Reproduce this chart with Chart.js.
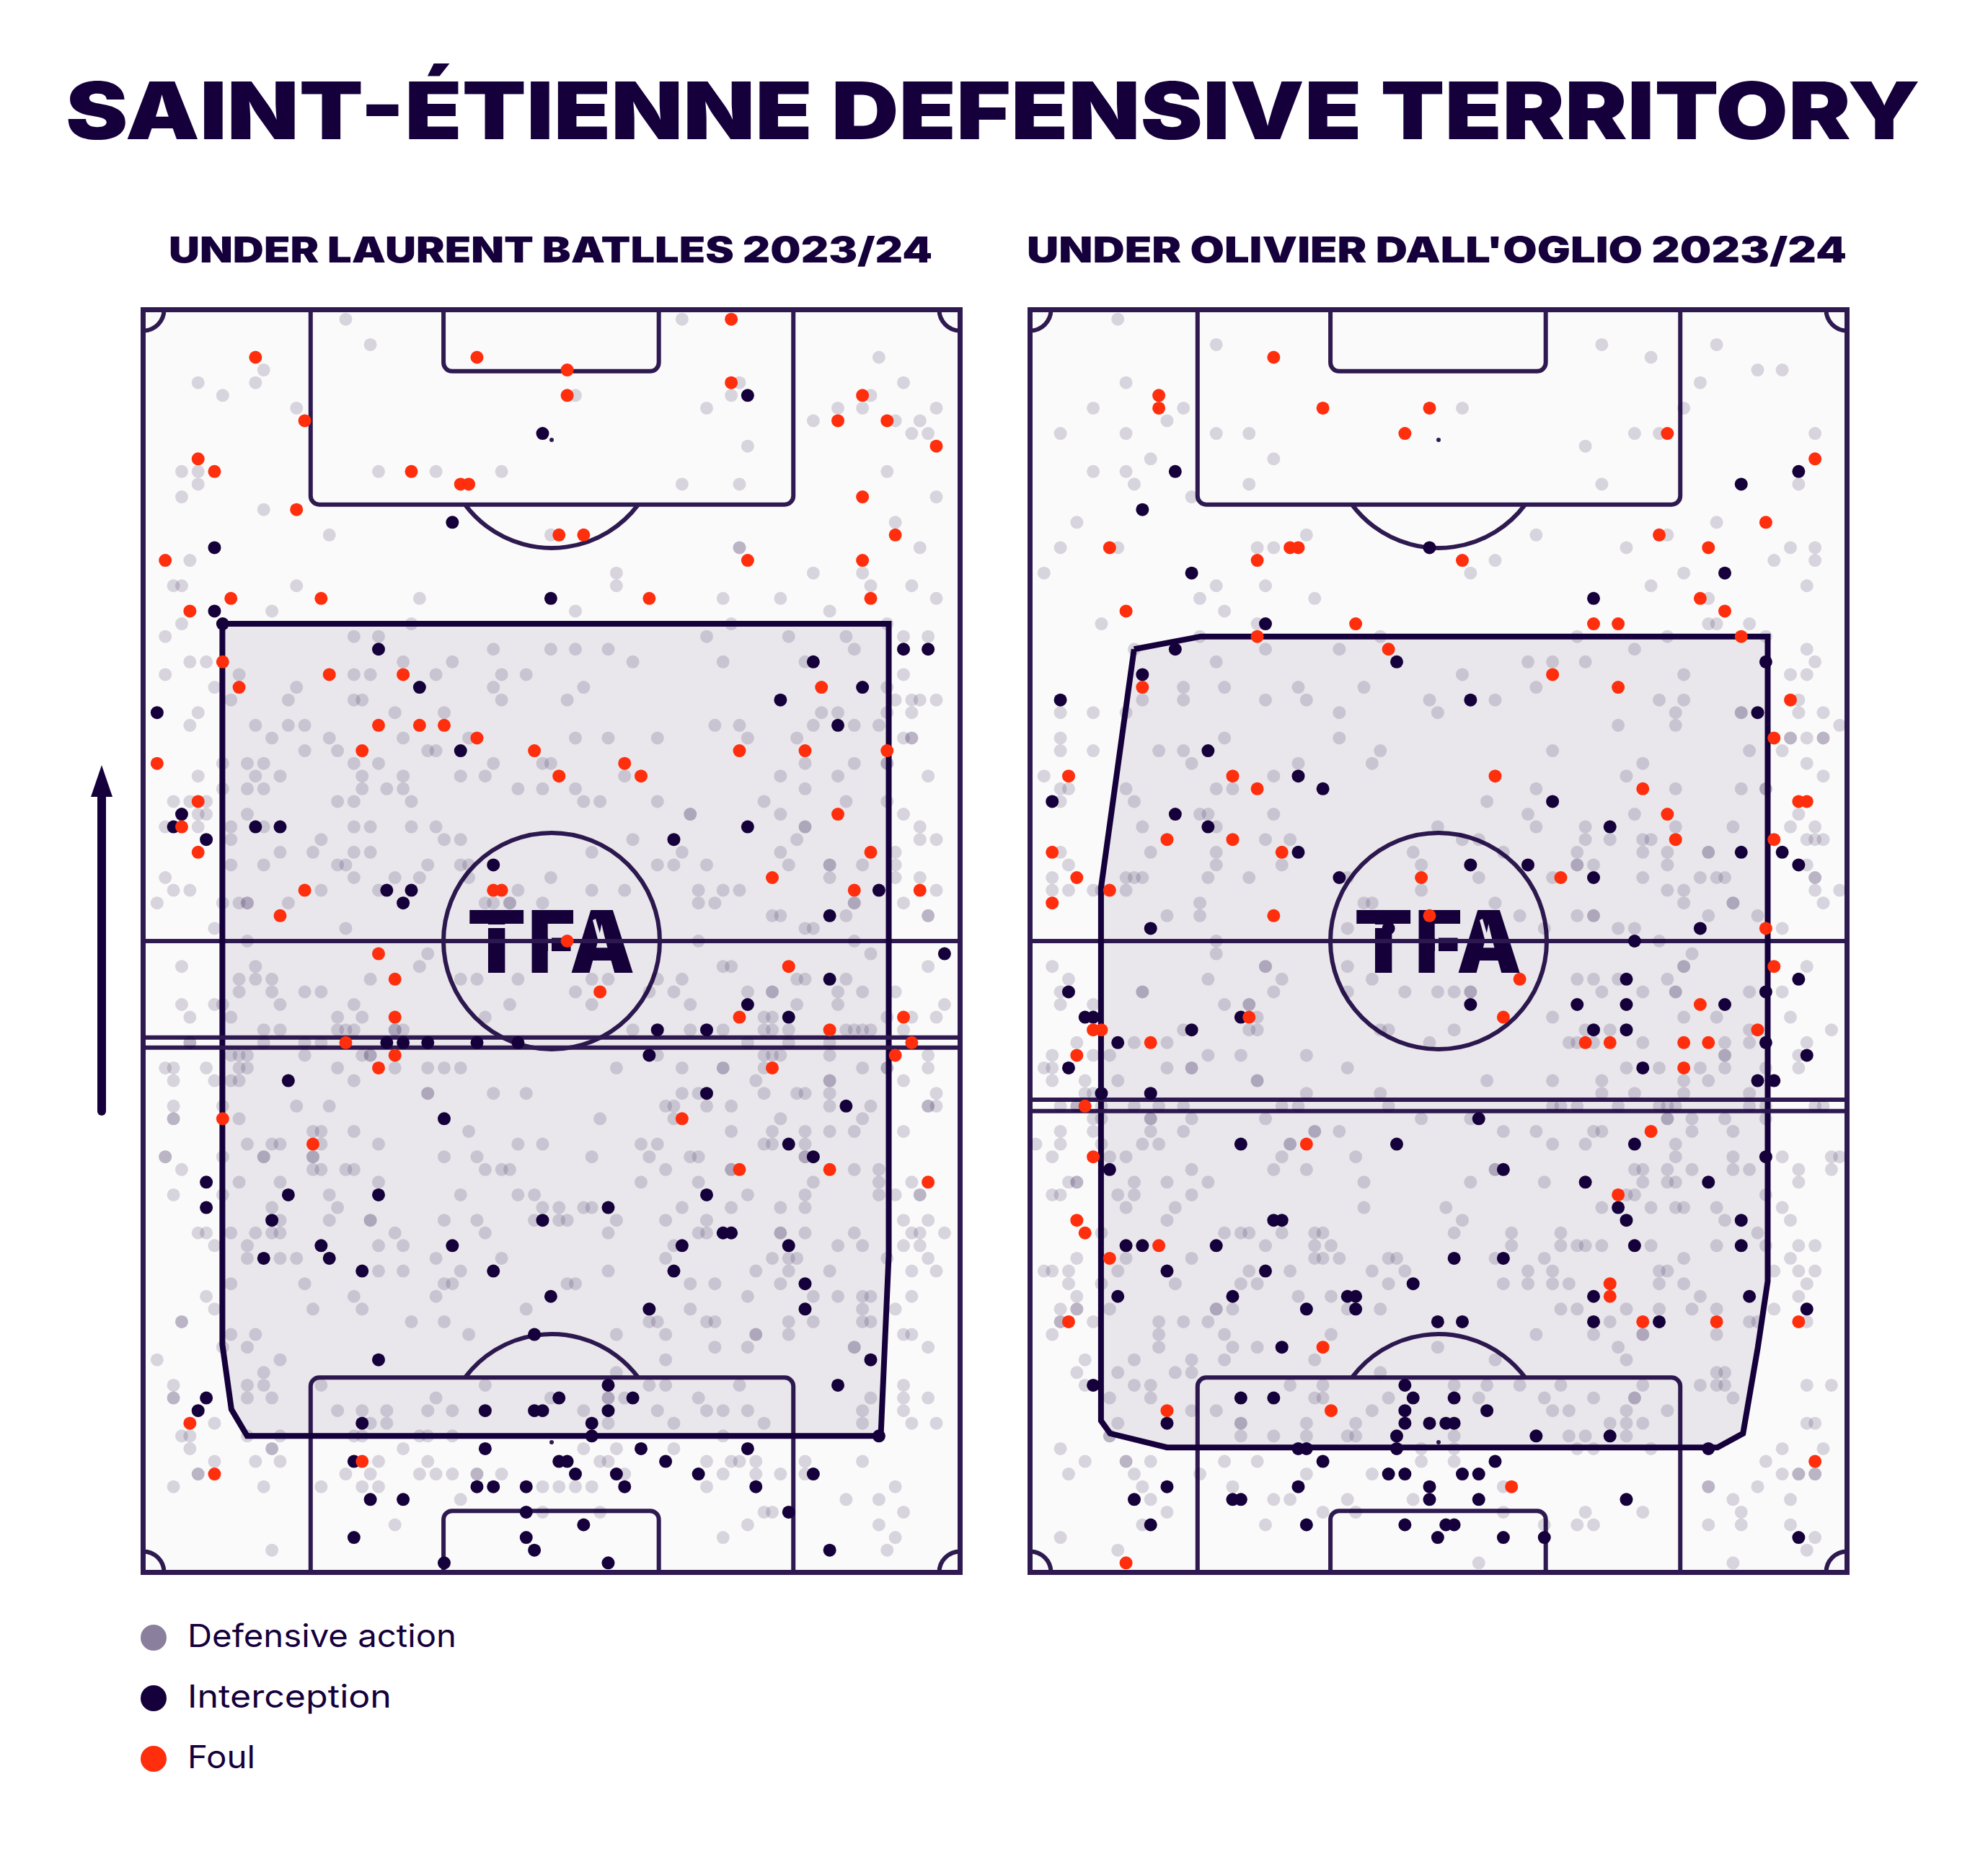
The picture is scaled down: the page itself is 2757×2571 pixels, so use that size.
<!DOCTYPE html>
<html>
<head>
<meta charset="utf-8">
<title>Saint-Étienne defensive territory</title>
<script src="https://cdn.jsdelivr.net/npm/chart.js@4"></script>
<style>
html,body{margin:0;padding:0;background:#fff}
body{position:relative;width:2757px;height:2571px;overflow:hidden;color:#15003b;font-family:Inter,"Liberation Sans",sans-serif}
canvas{position:absolute}
.fit{position:absolute;white-space:nowrap;transform-origin:0 0;line-height:1}
#title{font-weight:900;font-size:110px}
.sub{font-weight:900;font-size:49px}
.lab{font-weight:400;font-size:44px}
.dot{position:absolute;left:195px;width:36px;height:36px;border-radius:50%}
</style>
</head>
<body>
<div class="fit" id="title" data-w="2572" style="left:91px;top:98px">SAINT-ÉTIENNE DEFENSIVE TERRITORY</div>
<div class="fit sub" data-w="1059" style="left:234px;top:322px">UNDER LAURENT BATLLES 2023/24</div>
<div class="fit sub" data-w="1137" style="left:1424px;top:322px">UNDER OLIVIER DALL'OGLIO 2023/24</div>
<svg style="position:absolute;left:120px;top:1050px" width="42" height="510">
<path d="M21 50 L21 491" stroke="#15003b" stroke-width="12" stroke-linecap="round"/>
<path d="M21 11 L36 55 L6 55 Z" fill="#15003b"/>
</svg>
<canvas id="left" style="left:188px;top:419px" width="1154" height="1772"></canvas>
<canvas id="right" style="left:1418px;top:419px" width="1154" height="1772"></canvas>
<div class="dot" style="top:2253px;background:rgba(21,0,59,.5)"></div>
<div class="dot" style="top:2337px;background:#15003b"></div>
<div class="dot" style="top:2421px;background:#ff2e0d"></div>
<div class="fit lab" data-w="373" style="left:260px;top:2246px">Defensive action</div>
<div class="fit lab" data-w="283" style="left:260px;top:2330px">Interception</div>
<div class="fit lab" data-w="94" style="left:260px;top:2414px">Foul</div>
<script>
// each row: y first, then the x of every defensive action on that row
var batllesActions = [
[99,25,66],[97,28],[96,90],[95,15],[94,7,14,73,93],[93,10,53,72,89],[92,19,69,85,88,97],[91,82,92,95],[90,94,96],[89,74],
[87,5,7,29,36,44,91],[86,7,66,73],[85,5,97],[84,15],[83,92],[82,23,50],[81,73,73,95],[80,6],[79,58,82,88],[78,4,5,19,58,89,94],
[77,34,71,78,97],[76,16,53,84],[75,5,33,72,91],[74,3,26,29,69,79,86,93,96],[73,43,50,53,57,87],[72,6,8,32,38,60,71,81],
[71,3,12,26,28,36,44,47,93],[70,9,19,43,54,91],[69,11,18,26,27,44,52,92,94,95,97],[68,7,31,37,83,85,91,94],
[67,6,14,18,20,70,73,82,87,90],[66,16,23,32,40,53,57,63,74,80,93,94,94],[65,20,24,35,36],[64,10,13,15,26,29,43,49,50,81,87,91,91],
[63,7,14,17,27,32,39,42,59,78,85,96],[62,10,13,15,27,30,32,46,49,53,81],[61,4,6,8,24,26,33,54,56,63,76,86,91],
[60,7,8,13,67,67,78,93],[59,3,7,11,15,26,28,33,36,81,81,95],[58,11,22,37,39,60,80,95,97],[57,17,21,26,28,55,66,78,92],
[56,11,15,24,25,35,39,40,63,65,69,79,84,84,88,92],[55,3,26,31,34,40,50,84,92,95],[54,4,6,22,29,46,55,59,68,71,73,97],
[53,2,10,12,13,13,18,42,43,45,45,49,68,70,87,87,93],[52,77,78,86,96,96],[51,9,25,81,82],[50,13,68,87],
[49,35,89],[48,5,14,34,71,72,96],[47,12,14,16,28,39,41,46,55,57,63,66,80,81,86],[46,12,16,20,22,53,62,65,74,77,77,85,88,92],
[45,5,9,10,17,26,45,55,67,80,85,98],[44,6,11,24,27,42,76,77,91,94,97],[43,15,17,24,25,26,31,31,32,60,67,71,76,77,79,86,87,88,89,93],
[42,6,6,15,20,22,74,79,84],[41,11,12,13,20,27,28,28,63,76,77,78,84,96],[40,3,4,8,12,13,24,31,35,37,39,58,66,71,71,76,88,91,91,96],
[39,4,9,11,12,26,75,84,84,93],[38,35,35,43,47,66,68,76,80,81,84,97],[37,4,10,19,23,64,65,69,72,84,89,96,96,97],
[36,4,4,12,56,65,78,88],[35,21,22,26,40,72,77,81,84,87,93],[34,13,16,17,22,29,46,49,61,63,76,77,81],
[33,3,3,10,15,15,21,21,37,41,55,62,67,68,81,81],[32,5,21,22,25,26,42,44,45,64,72,72,87,90],[31,12,17,29,61,68,82,90,94],
[30,4,10,23,39,46,48,74,81,90,92,95,95],[29,16,24,49,51,54,55,66,72,78,81],[28,17,23,28,28,37,41,48,51,52,58,64,69,93,96],
[27,7,8,11,14,16,17,31,42,57,68,69,78,78,81,87,94,95,98],[26,9,13,29,32,65,85,88,93,95],[25,13,17,19,36,44,64,77,79,80,91,96],
[24,29,32,39,57,75,79,84,94,97],[23,11,20,37,38,52,53,67,70,78],[22,8,26,36,74,82,85,88,89,94],[21,9,21,27,47,67,88,92],
[20,5,5,33,37,62,63,69,70,79,82,88,89],[19,11,14,40,58,64,75,75,79,93,94],[18,10,13,70,74,87,87,96],[17,2,17,64],[16,15,58],
[15,4,13,15,22,42,62,64,73,93],[14,4,4,13,16,36,50,57,57,59,68,89,93,96],[13,24,27,30,35,38,54,63,69,71,74,88,93],
[12,9,28,30,57,65,76,88,94,97],[11,5,6,13,17,26,27,34,35,38,71],[10,6,16,16,32,54,58,65],[9,9,14,17,29,35,56,57,69,72,73,75,81,88],
[8,7,7,25,28,34,36,38,41,41,44,59,71,75,78,81],[7,4,15,22,27,29,49,51,53,55,69,92],[6,39,86,90],[5,49,56,76,77,93],[4,31,74,90],[3,71,92],[2,16,91]
];
var batllesInterceptions = [
[74,93],[49,90],[38,83],[9,81],[50,77],[9,76],[10,75],[29,73],[93,73],[96,73],[82,72],[34,70],[88,70],[78,69],[2,68],[85,67],[39,65],
[5,60],[4,59],[14,59],[17,59],[74,59],[8,58],[65,58],[43,56],[30,54],[33,54],[90,54],[32,53],[84,52],
[98,49],[84,47],[74,45],[79,44],[63,43],[69,43],[30,42],[32,42],[35,42],[41,42],[46,42],[62,41],[18,39],[69,38],[86,37],[37,36],
[79,34],[82,33],[8,31],[18,30],[29,30],[69,30],[8,29],[57,29],[16,28],[49,28],[71,27],[72,27],[22,26],[38,26],[66,26],[79,26],
[15,25],[23,25],[27,24],[43,24],[65,24],[81,23],[50,22],[62,21],[81,21],[48,19],[29,17],[89,17],[57,15],[85,15],[8,14],[51,14],[60,14],
[7,13],[42,13],[48,13],[49,13],[57,13],[27,12],[55,12],[55,11],[90,11],[42,10],[61,10],[74,10],[26,9],[51,9],[52,9],[64,9],
[53,8],[58,8],[68,8],[82,8],[41,7],[43,7],[47,7],[59,7],[75,7],[28,6],[32,6],[47,5],[79,5],[54,4],[26,3],[47,3],[48,2],[84,2],[37,1],[57,1]
];
var batllesFouls = [
[72,99],[14,96],[41,96],[52,95],[72,94],[52,93],[88,93],[20,91],[85,91],[91,91],[97,89],[7,88],[9,87],[33,87],[39,86],[40,86],[88,85],
[19,84],[51,82],[54,82],[92,82],[3,80],[74,80],[88,80],[11,77],[22,77],[62,77],[89,77],[6,76],[10,72],[23,71],[32,71],[12,70],[83,70],
[29,67],[34,67],[37,67],[41,66],[27,65],[48,65],[73,65],[81,65],[91,65],[2,64],[59,64],[51,63],[61,63],[7,61],[85,60],[5,59],[7,57],[89,57],
[77,55],[20,54],[43,54],[44,54],[87,54],[95,54],[17,52],[52,50],
[29,49],[31,47],[79,48],[56,46],[31,44],[73,44],[93,44],[84,43],[25,42],[94,42],[31,41],[92,41],[29,40],[77,40],[10,36],[66,36],[21,34],
[73,32],[84,32],[96,31],[6,12],[27,9],[9,8]
];
var batllesTerritory = [[9.96,75],[91.2,75],[91.2,25.2],[90.23,11],[12.98,11],[11.06,13.1],[9.96,18.2],[9.96,75]];
var batllesLines = [42.4,41.6];

var dallOglioActions = [
[99,11],[97,23,70,84],[96,76],[95,89,92],[94,12,82],[92,8,19,53,80],[91,17],[90,4,12,23,27,74,77,96],[89,68],[88,15,30],[87,8,12],
[86,13,27,70,94],[85,20],[83,6,84],[82,34,62,78],[81,4,11,28,30,73,93,96],[80,57,91,96],[79,2,54,80],[78,23,29,76,95],[77,21,35,83],[76,24],
[75,9,28,83,84,88],[74,21,43,67,78,90],[73,13,29,38,74,95],[72,23,61,64,68,96],[71,53,80,93,95],[70,19,24,33,41,62],
[69,14,19,29,34,49,57,77,80,94],[68,4,8,12,38,50,79,87,87,94,97],[67,72,79,99],[66,4,24,38,93,93,95,97,97],[65,4,8,16,19,43,64,88,92],
[64,20,33,42,75,95],[63,2,30,73,97],[62,4,5,12,23,25,62,79,87,90,90],[61,4,13,56],[60,21,22,30,61,74,94],[59,14,23,50,62,68,79,86,93,96],
[58,29,32,53,55,68,71,75,76,95,96,97],[57,4,15,23,47,58,67,75,78,83,83],[56,5,23,31,48,67,67,69,78,95],
[55,3,12,13,14,22,27,39,55,64,75,82,84,85,96,96],[54,3,5,8,9,12,48,78,80,96,99],[53,21,41,42,57,80,86,86,97],[52,17,21,60,67,69,69,83,89],
[51,39,63,72,74,92],[50,23,77],
[49,23,81],[48,3,29,29,39,80,80,95],[47,5,22,31,42,67,69,72,78],[46,4,14,14,30,39,46,50,52,54,54,70,75,79,79,88,92],[45,4,8,24,27,27],
[44,28,64,80,84,93],[43,19,27,28,43,44,52,68,71,88,98],[42,6,13,17,49,66,67,69,75,85,88,95],[41,3,8,10,22,26,34,85,85,94],
[40,2,3,17,20,20,39,73,77,82,85,90,94],[39,3,7,11,28,28,56,64,70,80,83],[38,7,8,34,43,70,74,80,88],
[37,4,6,6,9,13,16,19,31,33,44,64,65,67,72,77,78,79,88,90,96,97],[36,8,9,15,15,20,29,48,54,78,78,81,85,90],
[35,4,8,15,19,35,35,38,58,62,69,70,81,86],[34,1,4,9,14,16,32,32,64,68,79],[33,3,10,12,31,40,79,86,92,98,99],
[32,20,30,34,57,57,74,75,78,81,86,88,94,98],[31,5,6,6,13,17,22,41,54,63,75,78,79,94],[30,3,4,11,13,20,73,74,90],
[29,12,18,41,51,70,76,79,80,84,92],[28,17,53,85,93],[27,9,24,26,27,31,35,36,52,59,65,89],[26,29,35,37,59,65,67,68,70,76,84,90,94,96],
[25,6,12,20,35,36,38,44,45,57,63,80,93],[24,2,3,5,11,27,32,42,46,61,64,77,78,91,94,96],[23,5,9,18,26,28,44,58,61,64,66,77,80,95],
[22,6,33,37,82,94],[21,4,6,6,10,23,23,25,39,43,65,67,73,77,81,84,91],[20,4,4,8,16,19,22,71,88,89,95],[19,3,16,24,37,62,69,75,75,84],
[18,16,25,28,50,72],[17,7,13,20,24,35,57,73],[16,6,11,18,20,43,84,85],[15,7,13,15,32,36,52,56,60,65,75,82,84,85,95,98],
[14,10,15,35,36,44,55,63,69,74,74,86],[13,20,23,42,64,66,73,78],[12,11,26,26,34,40,71,73,75,95,96],[11,10,10,26,30,34,39,40,52,66,68,73],
[10,4,48,52,67,69,76,92,97],[9,7,12,12,15,24,28,48,52,90],[8,5,13,21,34,42,92,94,94,96,96],[7,14,25,58,83,83,89],[6,15,30,32,39,47,86,93],
[5,17,36,40,58,68,75,87],[4,14,29,63,67,69,83,87,93],[3,4,96],[2,11,95],[1,55,86]
];
var dallOglioInterceptions = [
[18,87],[94,87],[87,86],[14,84],[49,81],[20,79],[85,79],[69,77],[29,75],[18,73],[45,72],[90,72],[14,71],[4,69],[54,69],[89,68],[22,65],
[33,63],[36,62],[3,61],[64,61],[18,60],[22,59],[71,59],[33,57],[87,57],[92,57],[54,56],[61,56],[94,56],[38,55],[69,55],[15,51],[82,51],[74,50],[44,51],
[73,47],[94,47],[5,46],[90,46],[54,45],[67,45],[73,45],[85,45],[7,44],[8,44],[26,44],[20,43],[69,43],[73,43],[11,42],[90,42],[95,41],[5,40],[75,40],
[89,39],[91,39],[9,38],[15,38],[55,36],[26,34],[45,34],[74,34],[90,33],[10,32],[58,32],[68,31],[83,31],[72,29],[30,28],[31,28],[73,28],[87,28],
[12,26],[14,26],[23,26],[74,26],[87,26],[52,25],[58,25],[17,24],[29,24],[47,23],[11,22],[25,22],[39,22],[40,22],[69,22],[88,22],[34,21],[40,21],[95,21],
[50,20],[53,20],[69,20],[77,20],[31,18],[8,15],[46,15],[26,14],[30,14],[47,14],[52,14],[46,13],[56,13],[17,12],[46,12],[49,12],[51,12],[52,12],
[45,11],[62,11],[71,11],[33,10],[34,10],[45,10],[83,10],[36,9],[57,9],[44,8],[46,8],[53,8],[55,8],[17,7],[33,7],[49,7],[13,6],[25,6],[26,6],[49,6],[55,6],[73,6],
[15,4],[34,4],[46,4],[51,4],[52,4],[50,3],[58,3],[63,3],[94,3]
];
var dallOglioFouls = [
[30,96],[16,93],[16,92],[36,92],[49,92],[46,90],[78,90],[96,88],[90,83],[77,82],[10,81],[32,81],[33,81],[83,81],[28,80],[53,80],[82,77],[12,76],[85,76],
[40,75],[69,75],[72,75],[28,74],[87,74],[44,73],[64,71],[14,70],[72,70],[93,69],[91,66],[5,63],[25,63],[57,63],[28,62],[75,62],[94,61],[95,61],[78,60],
[17,58],[25,58],[79,58],[91,58],[3,57],[31,57],[6,55],[48,55],[65,55],[10,54],[3,53],[30,52],[49,52],[90,51],
[91,48],[60,47],[82,45],[27,44],[58,44],[8,43],[9,43],[89,43],[15,42],[68,42],[71,42],[80,42],[83,42],[6,41],[80,40],[7,37],[76,35],[34,34],[8,33],[72,30],
[6,28],[7,27],[16,26],[10,25],[71,23],[71,22],[5,20],[75,20],[84,20],[94,20],[36,18],[17,13],[37,13],[96,9],[59,7],[12,1]
];
var dallOglioTerritory = [[12.98,73],[21.12,74],[90.23,74],[90.23,23.2],[89.03,18],[87.22,11.2],[84.1,10.1],[17,10.1],[10.06,11.2],[8.95,12.2],[8.95,54.2],[12.98,73]];
var dallOglioLines = [37.5,36.6];

var NAVY = '#15003b', LINE = '#2e1a50', FOUL = '#ff2e0d';
var XMIN = 0.3, XMAX = 99.9, MID = 50.1;

function expandRows(rows) {
  var out = [];
  rows.forEach(function (row) {
    row.slice(1).forEach(function (x) { out.push({x: x, y: row[0]}); });
  });
  return out;
}
function toPoints(pairs) {
  return pairs.map(function (p) { return {x: p[0], y: p[1]}; });
}

// stencil style logo, one stretched letter at a time, with the cuts of the original
function drawLogo(ctx, cx, cy) {
  ctx.save();
  ctx.fillStyle = NAVY;
  ctx.font = '900 120px Inter, "Liberation Sans", sans-serif';
  ctx.textBaseline = 'alphabetic';
  ctx.textAlign = 'left';
  [['T', -114, -38], ['F', -28, 31], ['A', 27, 113]].forEach(function (l) {
    var m = ctx.measureText(l[0]);
    var s = (l[2] - l[1]) / (m.actualBoundingBoxLeft + m.actualBoundingBoxRight);
    ctx.save();
    ctx.translate(cx + l[1] + m.actualBoundingBoxLeft * s, cy + 44);
    ctx.scale(s, 1);
    ctx.fillText(l[0], 0, 0);
    ctx.restore();
  });
  ctx.fillStyle = '#fafafa';
  ctx.fillRect(cx - 114, cy - 23, 76, 5);
  ctx.fillRect(cx - 5, cy - 12, 5, 28);
  ctx.beginPath();
  ctx.moveTo(cx + 57, cy - 29);
  ctx.lineTo(cx + 61, cy - 31);
  ctx.lineTo(cx + 71, cy + 3);
  ctx.lineTo(cx + 66, cy + 5);
  ctx.closePath();
  ctx.fill();
  ctx.restore();
}

// pitch markings go under the datasets, placed with the chart's scales
var pitchPlugin = {
  id: 'pitch',
  beforeDatasetsDraw: function (chart) {
    var ctx = chart.ctx, a = chart.chartArea;
    var sx = chart.scales.x, sy = chart.scales.y;
    var X = function (v) { return sx.getPixelForValue(v); };
    var Y = function (v) { return sy.getPixelForValue(v); };
    var R = 150, rad = 12;
    ctx.save();
    ctx.fillStyle = '#fafafa';
    ctx.fillRect(a.left, a.top, a.width, a.height);

    drawLogo(ctx, X(MID), Y(50));

    ctx.strokeStyle = LINE;
    ctx.lineWidth = 6;

    function box(l, r, yEdge, yFront) {
      ctx.beginPath();
      ctx.moveTo(X(l), Y(yEdge));
      ctx.arcTo(X(l), Y(yFront), X(r), Y(yFront), rad);
      ctx.arcTo(X(r), Y(yFront), X(r), Y(yEdge), rad);
      ctx.lineTo(X(r), Y(yEdge));
      ctx.stroke();
    }
    box(20.72, 79.57, 99.75, 84.4);
    box(20.72, 79.57, 0.25, 15.6);
    box(36.92, 63.17, 99.75, 94.9);
    box(36.92, 63.17, 0.25, 5.1);

    // halfway line and circles
    ctx.beginPath();
    ctx.moveTo(a.left, Y(50));
    ctx.lineTo(a.right, Y(50));
    ctx.stroke();
    ctx.beginPath();
    ctx.arc(X(MID), Y(50), R, 0, Math.PI * 2);
    ctx.stroke();
    ctx.beginPath();
    ctx.arc(X(MID), Y(89.5), R, 0.6435, Math.PI - 0.6435);
    ctx.stroke();
    ctx.beginPath();
    ctx.arc(X(MID), Y(10.5), R, Math.PI + 0.6435, -0.6435);
    ctx.stroke();

    // spots
    ctx.fillStyle = LINE;
    [89.5, 10.5].forEach(function (v) {
      ctx.beginPath();
      ctx.arc(X(MID), Y(v), 3, 0, Math.PI * 2);
      ctx.fill();
    });

    // corner arcs
    [[a.left, a.top, 0, Math.PI / 2], [a.right, a.top, Math.PI / 2, Math.PI],
     [a.left, a.bottom, -Math.PI / 2, 0], [a.right, a.bottom, Math.PI, Math.PI * 1.5]].forEach(function (c) {
      ctx.beginPath();
      ctx.arc(c[0], c[1], 29, c[2], c[3]);
      ctx.stroke();
    });

    // frame
    ctx.lineWidth = 7;
    ctx.strokeRect(a.left, a.top, a.width, a.height);
    ctx.restore();
  }
};

function makePanel(id, actions, interceptions, fouls, territory, lines) {
  var lineSets = lines.map(function (v) {
    return {
      type: 'scatter', data: [{x: XMIN, y: v}, {x: XMAX, y: v}], showLine: true,
      borderColor: LINE, borderWidth: 6, pointRadius: 0, order: 4
    };
  });
  return new Chart(document.getElementById(id), {
    type: 'scatter',
    data: {
      datasets: [
        {label: 'Foul', data: toPoints(fouls), backgroundColor: FOUL, borderWidth: 0, pointRadius: 9, clip: false, order: 1},
        {label: 'Interception', data: toPoints(interceptions), backgroundColor: NAVY, borderWidth: 0, pointRadius: 9, clip: false, order: 2},
        {label: 'Defensive action', data: expandRows(actions), backgroundColor: 'rgba(21,0,59,0.15)', borderWidth: 0, pointRadius: 9, clip: false, order: 3}
      ].concat(lineSets, [
        {label: 'Territory', data: toPoints(territory), showLine: true, fill: 'shape', tension: 0,
         backgroundColor: 'rgba(21,0,59,0.075)', borderColor: NAVY, borderWidth: 8, borderJoinStyle: 'miter',
         pointRadius: 0, clip: false, order: 5}
      ])
    },
    options: {
      responsive: false,
      animation: false,
      layout: {padding: 10.5},
      plugins: {legend: {display: false}, tooltip: {enabled: false}, title: {display: false}},
      scales: {
        x: {type: 'linear', min: XMIN, max: XMAX, display: false},
        y: {type: 'linear', min: 0.25, max: 99.75, display: false}
      }
    },
    plugins: [pitchPlugin]
  });
}

makePanel('left', batllesActions, batllesInterceptions, batllesFouls, batllesTerritory, batllesLines);
makePanel('right', dallOglioActions, dallOglioInterceptions, dallOglioFouls, dallOglioTerritory, dallOglioLines);

// squeeze or stretch each text to the width it has in the picture
document.querySelectorAll('.fit').forEach(function (el) {
  el.style.transform = 'scaleX(' + (el.dataset.w / el.getBoundingClientRect().width) + ')';
});
</script>
</body>
</html>
